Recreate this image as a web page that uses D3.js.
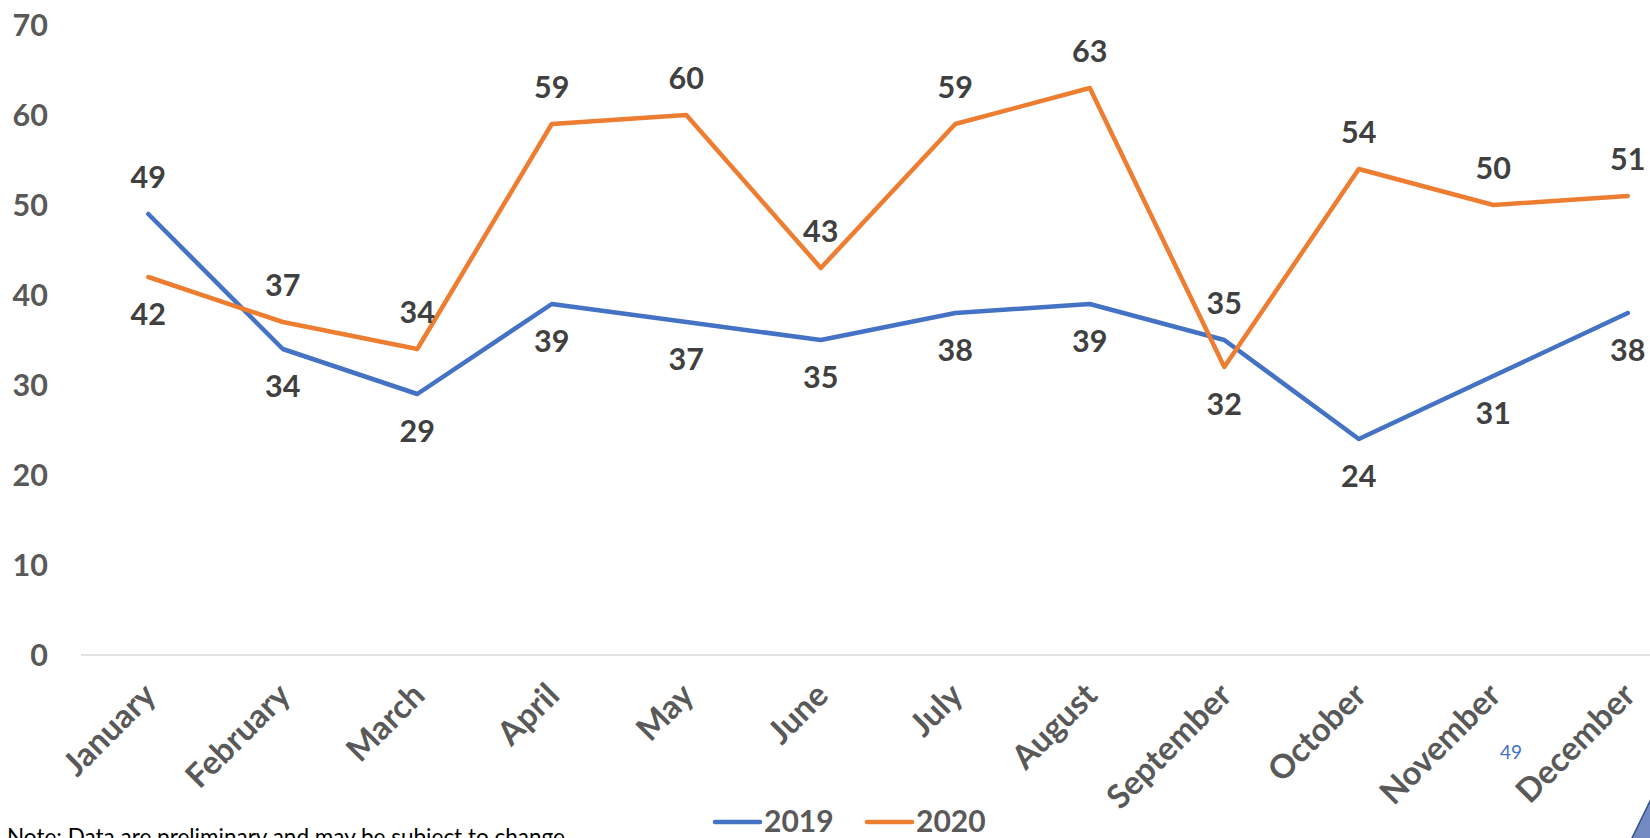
<!DOCTYPE html>
<html>
<head>
<meta charset="utf-8">
<script src="https://cdn.jsdelivr.net/npm/d3@7/dist/d3.min.js"></script>
<style>
  html, body { margin: 0; padding: 0; background: #ffffff; overflow: hidden; }
  svg { display: block; }
</style>
</head>
<body>
<svg id="chart" width="1650" height="838"></svg>
<script>
const months = ["January","February","March","April","May","June","July","August","September","October","November","December"];
const values2019 = [49, 34, 29, 39, 37, 35, 38, 39, 35, 24, 31, 38];
const values2020 = [42, 37, 34, 59, 60, 43, 59, 63, 32, 54, 50, 51];
// label placement: 1 = above point, -1 = below point
const labelPos2019 = [1, -1, -1, -1, -1, -1, -1, -1, 1, -1, -1, -1];
const labelPos2020 = [-1, 1, 1, 1, 1, 1, 1, 1, -1, 1, 1, 1];
const yTicks = [0, 10, 20, 30, 40, 50, 60, 70];
const seriesNames = ["2019", "2020"];
const seriesColors = ["#4472C4", "#ED7D31"];
const noteText = "Note: Data are preliminary and may be subject to change.";
const pageNumber = "49";

const svg = d3.select("#chart");
const FONT = "Lato, 'Open Sans', sans-serif";

const x = d3.scalePoint().domain(months).range([148.3, 148.3 + 11 * 134.5]);
const y = d3.scaleLinear().domain([0, 70]).range([655, 25]);

// baseline axis line
svg.append("line")
  .attr("x1", 81).attr("x2", 1650)
  .attr("y1", y(0)).attr("y2", y(0))
  .attr("stroke", "#d9d9d9").attr("stroke-width", 1.5);

// y axis labels
const yAxis = d3.axisLeft(y).tickValues(yTicks).tickSize(0).tickPadding(0);
const yg = svg.append("g").attr("transform", "translate(48,0)").call(yAxis);
yg.select(".domain").remove();
yg.selectAll("text")
  .attr("font-family", FONT).attr("font-weight", 700).attr("font-size", 30.5)
  .attr("fill", "#595959").attr("dy", "0.36em");

// x axis labels (rotated)
const xg = svg.append("g");
xg.selectAll("text").data(months).enter().append("text")
  .attr("transform", d => `translate(${x(d) + 1},689) rotate(-45)`)
  .attr("text-anchor", "end")
  .attr("dy", "0.36em")
  .attr("font-family", FONT).attr("font-weight", 700).attr("font-size", 33)
  .attr("fill", "#595959")
  .text(d => d);

// lines
const line = d3.line().x((d, i) => x(months[i])).y(d => y(d));
const allSeries = [values2019, values2020];
const allPos = [labelPos2019, labelPos2020];
allSeries.forEach((vals, s) => {
  svg.append("path")
    .datum(vals)
    .attr("d", line)
    .attr("fill", "none")
    .attr("stroke", seriesColors[s])
    .attr("stroke-width", 4.5)
    .attr("stroke-linejoin", "round")
    .attr("stroke-linecap", "round");
});

// data labels
allSeries.forEach((vals, s) => {
  svg.append("g").selectAll("text").data(vals).enter().append("text")
    .attr("x", (d, i) => x(months[i]))
    .attr("y", (d, i) => y(d) - allPos[s][i] * 37)
    .attr("dy", "0.36em")
    .attr("text-anchor", "middle")
    .attr("font-family", FONT).attr("font-weight", 700).attr("font-size", 30.5)
    .attr("fill", "#404040")
    .text(d => d);
});

// legend
const legend = svg.append("g");
const legendX = [715, 867];
seriesNames.forEach((name, s) => {
  legend.append("line")
    .attr("x1", legendX[s]).attr("x2", legendX[s] + 45)
    .attr("y1", 822).attr("y2", 822)
    .attr("stroke", seriesColors[s]).attr("stroke-width", 4.5)
    .attr("stroke-linecap", "round");
  legend.append("text")
    .attr("x", legendX[s] + 49).attr("y", 821).attr("dy", "0.36em")
    .attr("font-family", FONT).attr("font-weight", 700).attr("font-size", 30)
    .attr("fill", "#595959")
    .text(name);
});

// note
svg.append("text")
  .attr("x", 7).attr("y", 845)
  .attr("font-family", "Lato, 'Open Sans', sans-serif").attr("font-size", 22.5)
  .attr("fill", "#000000")
  .text(noteText);

// page number
svg.append("text")
  .attr("x", 1511).attr("y", 759).attr("text-anchor", "middle")
  .attr("font-family", FONT).attr("font-size", 19)
  .attr("fill", "#4472C4")
  .text(pageNumber);

// decorative corner triangle
svg.append("polygon")
  .attr("points", "1631,840 1652,797 1652,840")
  .attr("fill", "#7389c2").attr("stroke", "#2f4f8f").attr("stroke-width", 1.5);
</script>
</body>
</html>
